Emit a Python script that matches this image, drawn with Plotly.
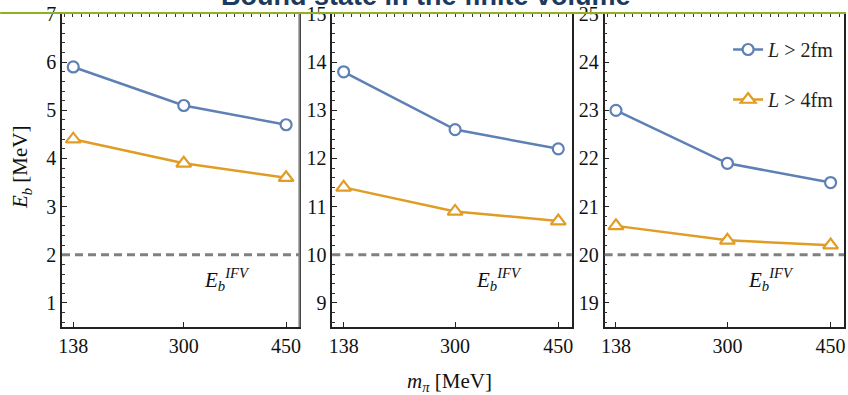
import plotly.graph_objects as go

# ---------------- data ----------------
mpi = [138, 300, 450]
blue_p1 = [5.9, 5.1, 4.7]
blue_p2 = [13.8, 12.6, 12.2]
blue_p3 = [23.0, 21.9, 21.5]
orange_p1 = [4.4, 3.9, 3.6]
orange_p2 = [11.4, 10.9, 10.7]
orange_p3 = [20.6, 20.3, 20.2]
ifv_levels = [2, 10, 20]
y_ranges = [[0.5, 7], [8.5, 15], [18.5, 25]]
x_range = [121.5, 469.5]
x_ticks = [138, 300, 450]
series_names = ["<i>L</i> > 2fm", "<i>L</i> > 4fm"]
title_text = "Bound state in the finite volume"
ifv_label = "<i>E</i><sub><i>b</i></sub><sup><i>IFV</i></sup>"
ifv_label_pos = [[364, 1.48], [364, 9.48], [363, 19.48]]

blues = [blue_p1, blue_p2, blue_p3]
oranges = [orange_p1, orange_p2, orange_p3]

BLUE = "#5e81b5"
ORANGE = "#e19c24"
SERIF = "Liberation Serif"

W, H = 848, 395
L_M, R_M, T_M, B_M = 62, 2, 14, 68
PW = W - L_M - R_M
PH = H - T_M - B_M

px_domains = [(62, 300), (333, 573), (606, 846)]
domains = [[(a - L_M) / PW, (b - L_M) / PW] for a, b in px_domains]

fig = go.Figure()

for i in range(3):
    xa = "x" if i == 0 else f"x{i+1}"
    ya = "y" if i == 0 else f"y{i+1}"
    fig.add_trace(go.Scatter(
        x=mpi, y=blues[i], xaxis=xa, yaxis=ya, mode="lines+markers",
        name=series_names[0], legendgroup="a", showlegend=(i == 2),
        line=dict(color=BLUE, width=2.5),
        marker=dict(symbol="circle", size=11, color="white", line=dict(width=2.2, color=BLUE)),
    ))
    fig.add_trace(go.Scatter(
        x=mpi, y=oranges[i], xaxis=xa, yaxis=ya, mode="lines+markers",
        name=series_names[1], legendgroup="b", showlegend=(i == 2),
        line=dict(color=ORANGE, width=2.5),
        marker=dict(symbol="triangle-up", size=13, color="white", line=dict(width=2.2, color=ORANGE)),
    ))
    # invisible trace to register top tick axis
    fig.add_trace(go.Scatter(x=[], y=[], xaxis=f"x{i+4}", yaxis=ya, showlegend=False, hoverinfo="skip"))

layout = dict(
    width=W, height=H,
    margin=dict(l=L_M, r=R_M, t=T_M, b=B_M, pad=0),
    plot_bgcolor="white", paper_bgcolor="white",
    showlegend=True,
    legend=dict(x=0.995, xanchor="right", y=1 - (30 - T_M) / PH, yanchor="top",
                bgcolor="rgba(0,0,0,0)", font=dict(family=SERIF, size=20, color="#222"),
                tracegroupgap=21, itemwidth=30),
)

for i in range(3):
    xk = "xaxis" if i == 0 else f"xaxis{i+1}"
    yk = "yaxis" if i == 0 else f"yaxis{i+1}"
    ya = "y" if i == 0 else f"y{i+1}"
    xa = "x" if i == 0 else f"x{i+1}"
    layout[xk] = dict(
        domain=domains[i], anchor=ya, range=x_range,
        tickmode="array", tickvals=x_ticks, ticks="inside", ticklen=5, tickwidth=1,
        tickcolor="#222", showline=True, linecolor="#222", linewidth=1.5, mirror=True,
        showgrid=False, zeroline=False,
        tickfont=dict(family=SERIF, size=20, color="#111"),
    )
    layout[f"xaxis{i+4}"] = dict(
        overlaying=xa, side="top", anchor=ya, range=x_range,
        tick0=0, dtick=12.5, ticks="inside", ticklen=3, tickwidth=1, tickcolor="#333",
        showticklabels=False, showline=False, showgrid=False, zeroline=False,
    )
    layout[yk] = dict(
        domain=[0, 1], anchor=xa, range=y_ranges[i],
        tick0=0, dtick=1, ticks="inside", ticklen=5, tickwidth=1, tickcolor="#222",
        minor=dict(dtick=0.2, ticks="inside", ticklen=3, tickwidth=1, tickcolor="#333", showgrid=False),
        showline=True, linecolor="#222", linewidth=1.5, mirror=True,
        showgrid=False, zeroline=False,
        tickfont=dict(family=SERIF, size=20, color="#111"),
    )

fig.update_layout(**layout)

shapes = []
annotations = []
for i in range(3):
    xa = "x" if i == 0 else f"x{i+1}"
    ya = "y" if i == 0 else f"y{i+1}"
    shapes.append(dict(type="line", xref=f"{xa} domain", yref=ya, x0=0, x1=1,
                       y0=ifv_levels[i], y1=ifv_levels[i],
                       line=dict(color="#808080", width=3, dash="8px,5px")))
    annotations.append(dict(xref=xa, yref=ya, x=ifv_label_pos[i][0], y=ifv_label_pos[i][1],
                            text=ifv_label, showarrow=False,
                            font=dict(family=SERIF, size=21, color="#111")))

# gray right border of first panel
shapes.append(dict(type="line", xref="x domain", yref="y domain", x0=1, x1=1, y0=0, y1=1,
                   line=dict(color="#808080", width=2)))

# green header rule
gy = 1 + (T_M - 13) / PH
shapes.append(dict(type="line", xref="paper", yref="paper", x0=-L_M / PW, x1=(W - L_M) / PW,
                   y0=gy, y1=gy, line=dict(color="#8fb021", width=2), layer="above"))

# title (cut off at top)
annotations.append(dict(xref="paper", yref="paper", x=(427 - L_M) / PW, y=1 + (T_M - 12) / PH,
                        xanchor="center", yanchor="bottom", text=f"<b>{title_text}</b>",
                        showarrow=False, borderpad=0,
                        font=dict(family="Liberation Sans", size=27, color="#1c3a5e")))

# axis titles
annotations.append(dict(xref="paper", yref="paper", x=(450 - L_M) / PW, y=1 - (382 - T_M) / PH,
                        xanchor="center", yanchor="middle",
                        text="<i>m</i><sub><i>π</i></sub> [MeV]", showarrow=False,
                        font=dict(family=SERIF, size=21, color="#111")))
annotations.append(dict(xref="paper", yref="paper", x=(21 - L_M) / PW, y=1 - (167 - T_M) / PH,
                        xanchor="center", yanchor="middle", textangle=-90,
                        text="<i>E</i><sub><i>b</i></sub> [MeV]", showarrow=False,
                        font=dict(family=SERIF, size=21, color="#111")))

fig.update_layout(shapes=shapes, annotations=annotations)

fig.write_html("out.html")
